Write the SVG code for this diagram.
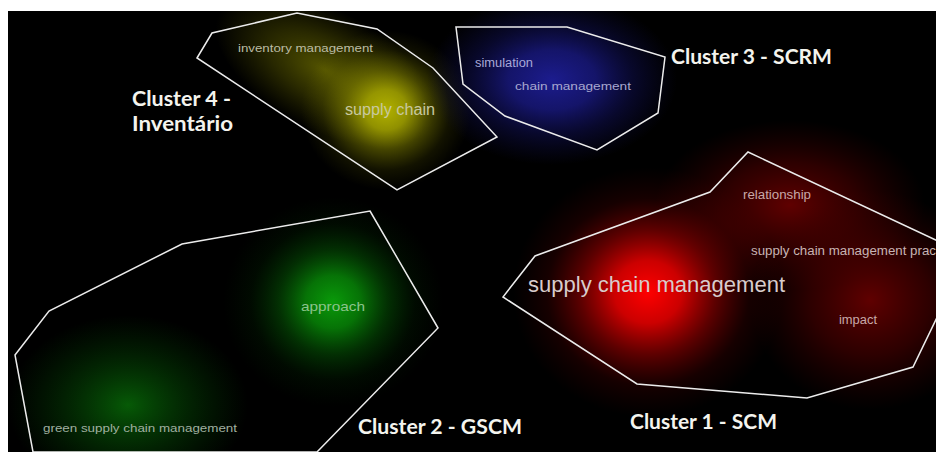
<svg xmlns="http://www.w3.org/2000/svg" width="936" height="452" viewBox="0 0 936 452">
<style>
.hull{fill:none;stroke:#ececec;stroke-width:1.5;stroke-linejoin:miter}
.term{font-family:"Liberation Sans",Arial,sans-serif}
.clab{font-family:Lato,"Open Sans",sans-serif;font-weight:bold;font-size:20px;fill:#f4f4ee}
</style>
<defs>
<clipPath id="area"><rect x="8" y="11" width="928" height="441"/></clipPath>
<radialGradient id="gY"><stop offset="0" stop-color="#b0b000"/><stop offset="0.25" stop-color="#b0b000" stop-opacity="0.8"/><stop offset="0.5" stop-color="#a0a000" stop-opacity="0.42"/><stop offset="0.75" stop-color="#909000" stop-opacity="0.13"/><stop offset="1" stop-color="#808000" stop-opacity="0"/></radialGradient>
<radialGradient id="gYd"><stop offset="0" stop-color="#6a6a00" stop-opacity="0.8"/><stop offset="0.5" stop-color="#5a5a00" stop-opacity="0.45"/><stop offset="1" stop-color="#505000" stop-opacity="0"/></radialGradient>
<radialGradient id="gB"><stop offset="0" stop-color="#1c1c8e"/><stop offset="0.35" stop-color="#18187c" stop-opacity="0.85"/><stop offset="0.65" stop-color="#121260" stop-opacity="0.45"/><stop offset="1" stop-color="#101050" stop-opacity="0"/></radialGradient>
<radialGradient id="gR"><stop offset="0" stop-color="#ff0000"/><stop offset="0.25" stop-color="#f00000" stop-opacity="0.85"/><stop offset="0.5" stop-color="#d00000" stop-opacity="0.45"/><stop offset="0.75" stop-color="#a00000" stop-opacity="0.14"/><stop offset="1" stop-color="#800000" stop-opacity="0"/></radialGradient>
<radialGradient id="gRd"><stop offset="0" stop-color="#6a0000" stop-opacity="0.9"/><stop offset="0.5" stop-color="#5a0000" stop-opacity="0.5"/><stop offset="1" stop-color="#400000" stop-opacity="0"/></radialGradient>
<radialGradient id="gG"><stop offset="0" stop-color="#0a9a0a"/><stop offset="0.25" stop-color="#089008" stop-opacity="0.8"/><stop offset="0.5" stop-color="#067006" stop-opacity="0.42"/><stop offset="0.75" stop-color="#045004" stop-opacity="0.13"/><stop offset="1" stop-color="#034003" stop-opacity="0"/></radialGradient>
<radialGradient id="gGd"><stop offset="0" stop-color="#076a07" stop-opacity="0.85"/><stop offset="0.5" stop-color="#055005" stop-opacity="0.45"/><stop offset="1" stop-color="#034003" stop-opacity="0"/></radialGradient>
</defs>
<rect x="0" y="0" width="936" height="452" fill="#ffffff"/>
<rect x="8" y="11" width="928" height="441" fill="#000000"/>

<g id="density" clip-path="url(#area)">
<ellipse cx="325" cy="70" rx="120" ry="60" transform="rotate(28 325 70)" fill="url(#gYd)"/>
<ellipse cx="386" cy="110" rx="85" ry="80" fill="url(#gY)"/>
<ellipse cx="552" cy="80" rx="125" ry="85" fill="url(#gB)"/>
<ellipse cx="790" cy="205" rx="135" ry="85" fill="url(#gRd)"/>
<ellipse cx="870" cy="300" rx="120" ry="110" fill="url(#gRd)"/>
<ellipse cx="648" cy="292" rx="135" ry="125" fill="url(#gR)"/>
<ellipse cx="128" cy="405" rx="120" ry="90" fill="url(#gGd)"/>
<ellipse cx="333" cy="302" rx="110" ry="105" fill="url(#gG)"/>
</g>

<g id="cluster4">
<polygon class="hull" points="197,58 212,33 297,13 377,29 433,68 497,137 397,190"/>
<text class="term" x="238" y="52" font-size="11.5" fill="#bcbca4" textLength="135" lengthAdjust="spacingAndGlyphs">inventory management</text>
<text class="term" x="345" y="115" font-size="16" fill="#c8c8a0" textLength="90" lengthAdjust="spacingAndGlyphs">supply chain</text>
<text class="clab" x="132" y="106" textLength="99" lengthAdjust="spacingAndGlyphs">Cluster 4 -</text>
<text class="clab" x="132" y="131" textLength="101" lengthAdjust="spacingAndGlyphs">Inventário</text>
</g>

<g id="cluster3">
<polygon class="hull" points="456,27 567,27 665,57 658,113 597,150 505,116 463,84"/>
<text class="term" x="475" y="67" font-size="12" fill="#a8a8d8" textLength="58" lengthAdjust="spacingAndGlyphs">simulation</text>
<text class="term" x="515" y="90" font-size="11" fill="#a8a8d0" textLength="116" lengthAdjust="spacingAndGlyphs">chain management</text>
<text class="clab" x="671" y="64" textLength="161" lengthAdjust="spacingAndGlyphs">Cluster 3 - SCRM</text>
</g>

<g id="cluster1">
<polygon class="hull" points="748,152 942,243 942,307 913,367 807,398 637,384 503,297 535,256 710,192"/>
<text class="term" x="743" y="199" font-size="12.5" fill="#c8a8a8" textLength="68" lengthAdjust="spacingAndGlyphs">relationship</text>
<text class="term" x="751" y="255" font-size="12.5" fill="#c8b4b4" textLength="185" lengthAdjust="spacingAndGlyphs">supply chain management prac</text>
<text class="term" x="528" y="292" font-size="22" fill="#d8cccc" textLength="257" lengthAdjust="spacingAndGlyphs">supply chain management</text>
<text class="term" x="839" y="324" font-size="12.5" fill="#c8a8a8" textLength="38" lengthAdjust="spacingAndGlyphs">impact</text>
<text class="clab" x="630" y="429" textLength="147" lengthAdjust="spacingAndGlyphs">Cluster 1 - SCM</text>
</g>

<g id="cluster2">
<polygon class="hull" points="370,211 438,328 317,452 33,452 15,355 49,311 182,244"/>
<text class="term" x="301" y="311" font-size="13" fill="#8cc48c" textLength="64" lengthAdjust="spacingAndGlyphs">approach</text>
<text class="term" x="43" y="432" font-size="11" fill="#a0b0a0" textLength="194" lengthAdjust="spacingAndGlyphs">green supply chain management</text>
<text class="clab" x="358" y="434" textLength="164" lengthAdjust="spacingAndGlyphs">Cluster 2 - GSCM</text>
</g>
</svg>
